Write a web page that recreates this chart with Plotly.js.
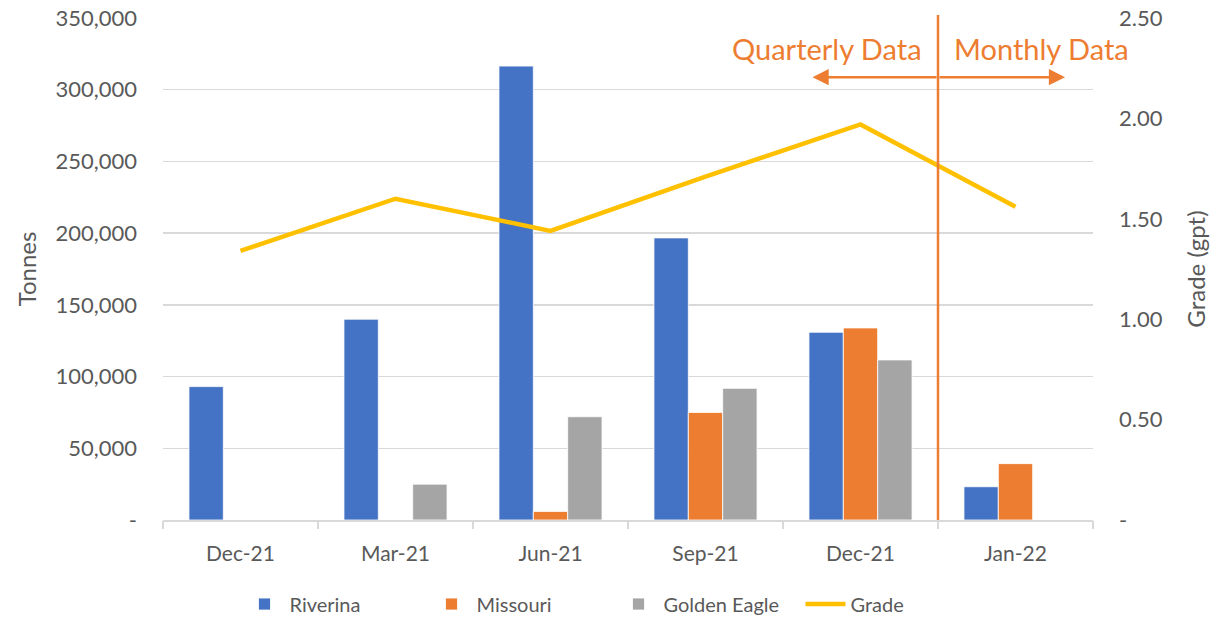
<!DOCTYPE html>
<html>
<head>
<meta charset="utf-8">
<script src="https://cdn.plot.ly/plotly-3.0.1.min.js"></script>
<style>html,body{margin:0;padding:0;background:#fff;}#chart{width:1227px;height:617px;}</style>
</head>
<body>
<div id="chart"></div>
<script>
// ---- data ----
const categories = ["Dec-21", "Mar-21", "Jun-21", "Sep-21", "Dec-21", "Jan-22"];
const riverina    = [93000, 140000, 316500, 196700, 130900, 23200];
const missouri    = [null, null, 6000, 75000, 133900, 39300];
const goldenEagle = [null, 25000, 72000, 91800, 111600, null];
const grade       = [1.34, 1.60, 1.44, 1.71, 1.97, 1.56];
const tonnesTickVals = [0, 50000, 100000, 150000, 200000, 250000, 300000, 350000];
const tonnesTickText = ["-", "50,000", "100,000", "150,000", "200,000", "250,000", "300,000", "350,000"];
const gradeTickVals = [0, 0.5, 1.0, 1.5, 2.0, 2.5];
const gradeTickText = ["-", "0.50", "1.00", "1.50", "2.00", "2.50"];
const splitLabels = ["Quarterly Data", "Monthly Data"];

const idx = categories.map((_, i) => i);
const boundaries = [-0.5].concat(idx.map(i => i + 0.5));
const splitAt = 4.5;

const FONT = "Lato, 'Open Sans', sans-serif";
const GREY = "#595959";
const ORANGE = "#ED7D31";

const barLine = {color: "#ffffff", width: 0.8};
const traces = [
  {type: "bar", name: "Riverina", x: idx, y: riverina, marker: {color: "#4472C4", line: barLine}, xaxis: "x", yaxis: "y"},
  {type: "bar", name: "Missouri", x: idx, y: missouri, marker: {color: ORANGE, line: barLine}, xaxis: "x", yaxis: "y"},
  {type: "bar", name: "Golden Eagle", x: idx, y: goldenEagle, marker: {color: "#A5A5A5", line: barLine}, xaxis: "x", yaxis: "y"},
  {type: "scatter", mode: "lines", name: "Grade", x: idx, y: grade, line: {color: "#FFC000", width: 4.5}, xaxis: "x2", yaxis: "y2"}
];

const xr = [-0.5, categories.length - 0.5];
const layout = {
  width: 1227, height: 617,
  margin: {l: 163, r: 134, t: 18, b: 97, autoexpand: false},
  paper_bgcolor: "#ffffff", plot_bgcolor: "#ffffff",
  font: {family: FONT, color: GREY, size: 21},
  barmode: "group", bargap: 0.335, bargroupgap: 0,
  showlegend: true,
  legend: {orientation: "h", x: 0.5, xanchor: "center", xref: "container",
           y: 0.021, yanchor: "middle", yref: "container",
           font: {size: 20, color: GREY}, traceorder: "normal", itemwidth: 40, entrywidth: 132},
  xaxis: {range: xr, tickmode: "array", tickvals: idx, ticktext: categories, automargin: false,
          ticks: "", showgrid: false, zeroline: false,
          showline: true, linecolor: "#D9D9D9", linewidth: 1.5,
          tickfont: {size: 21, color: GREY}, ticklabelstandoff: 14, fixedrange: true},
  xaxis2: {range: xr, overlaying: "x", anchor: "y", side: "bottom", tickmode: "array", tickvals: boundaries,
           ticks: "outside", ticklen: 8, tickcolor: "#D9D9D9", tickwidth: 1.5, automargin: false,
           showticklabels: false, showgrid: false, zeroline: false, showline: false},
  yaxis: {range: [0, 350000], tickmode: "array", tickvals: tonnesTickVals, ticktext: tonnesTickText,
          showgrid: true, gridcolor: "#D9D9D9", gridwidth: 1.3, zeroline: false, showline: false, ticks: "",
          tickfont: {size: 22, color: GREY}, ticklabelstandoff: 25, automargin: false,
          title: {text: "Tonnes", font: {size: 24, color: GREY}, standoff: 12}},
  yaxis2: {range: [0, 2.5], overlaying: "y", side: "right", anchor: "x", tickmode: "array",
           tickvals: gradeTickVals, ticktext: gradeTickText, automargin: false,
           showgrid: false, zeroline: false, showline: false, ticks: "",
           tickfont: {size: 22, color: GREY}, ticklabelstandoff: 25,
           title: {text: "Grade (gpt)", font: {size: 24, color: GREY}, standoff: 26}},
  shapes: [
    {type: "line", xref: "x", yref: "paper", x0: splitAt, x1: splitAt, y0: 0, y1: 1.006,
     line: {color: ORANGE, width: 2.5}, layer: "above"}
  ],
  annotations: [
    {xref: "x", yref: "paper", x: splitAt, y: 0.94, xanchor: "right", yanchor: "middle", xshift: -14,
     text: splitLabels[0], showarrow: false, font: {size: 29, color: ORANGE}},
    {xref: "x", yref: "paper", x: splitAt, y: 0.94, xanchor: "left", yanchor: "middle", xshift: 14,
     text: splitLabels[1], showarrow: false, font: {size: 29, color: ORANGE}},
    {xref: "x", yref: "paper", x: splitAt - 0.81, y: 0.882, axref: "x", ax: splitAt, ay: 0,
     text: "", showarrow: true, arrowhead: 2, arrowsize: 1.3, arrowwidth: 2.5, arrowcolor: ORANGE},
    {xref: "x", yref: "paper", x: splitAt + 0.82, y: 0.882, axref: "x", ax: splitAt, ay: 0,
     text: "", showarrow: true, arrowhead: 2, arrowsize: 1.3, arrowwidth: 2.5, arrowcolor: ORANGE}
  ]
};

Plotly.newPlot("chart", traces, layout, {staticPlot: true, displayModeBar: false});
</script>
</body>
</html>
